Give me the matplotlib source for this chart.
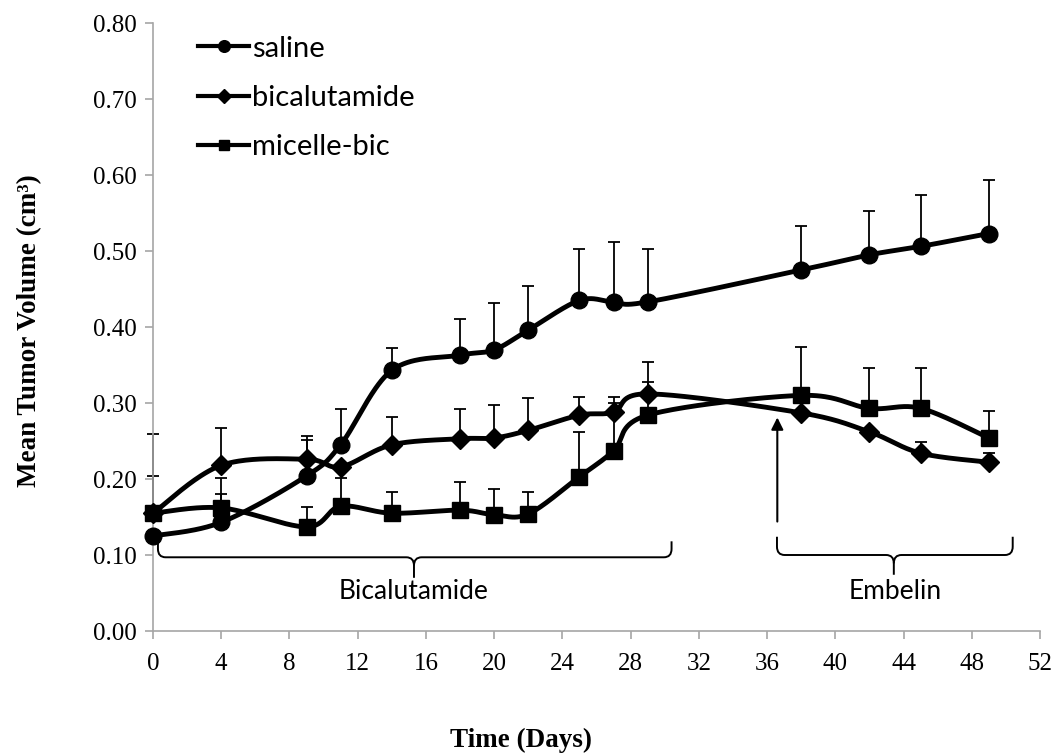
import numpy as np
import matplotlib
matplotlib.use("Agg")
import matplotlib.pyplot as plt
from matplotlib.path import Path
from matplotlib.patches import PathPatch

# tumour volume (cm^3) by day, with upper error bars
days = [0, 4, 9, 11, 14, 18, 20, 22, 25, 27, 29, 38, 42, 45, 49]

saline = [0.125, 0.143, 0.204, 0.245, 0.343, 0.363, 0.370, 0.396, 0.435, 0.433, 0.433,
          0.475, 0.495, 0.506, 0.523]
saline_top = [0.125, 0.180, 0.251, 0.292, 0.373, 0.411, 0.431, 0.454, 0.502, 0.512, 0.502,
              0.533, 0.553, 0.574, 0.593]

bical = [0.155, 0.218, 0.226, 0.216, 0.245, 0.253, 0.254, 0.264, 0.284, 0.288, 0.312,
         0.287, 0.262, 0.234, 0.222]
bical_top = [0.259, 0.267, 0.257, 0.216, 0.282, 0.292, 0.297, 0.307, 0.308, 0.308, 0.354,
             0.287, 0.262, 0.249, 0.234]

micelle = [0.155, 0.162, 0.137, 0.164, 0.155, 0.159, 0.153, 0.154, 0.203, 0.237, 0.284,
           0.310, 0.293, 0.293, 0.254]
micelle_top = [0.204, 0.201, 0.163, 0.201, 0.183, 0.196, 0.187, 0.183, 0.262, 0.300, 0.328,
               0.374, 0.346, 0.346, 0.289]

series = [("saline", saline, saline_top, "o", 12),
          ("bicalutamide", bical, bical_top, "D", 10),
          ("micelle-bic", micelle, micelle_top, "s", 11)]


def smooth(xs, ys, n=40):
    # Bezier smoothing through every point (spreadsheet-style smoothed line)
    p = np.column_stack([xs, ys]).astype(float)
    p = np.vstack([p[:1], p, p[-1:]])
    t = np.linspace(0, 1, n)[:, None]
    pts = []
    for i in range(len(xs) - 1):
        p0, p1, p2, p3 = p[i], p[i + 1], p[i + 2], p[i + 3]
        c1 = p1 + (p2 - p0) / 6
        c2 = p2 - (p3 - p1) / 6
        seg = ((1 - t) ** 3) * p1 + 3 * ((1 - t) ** 2) * t * c1 + 3 * (1 - t) * t ** 2 * c2 + t ** 3 * p2
        pts.append(seg if i == 0 else seg[1:])
    seg = np.vstack(pts)
    return seg[:, 0], seg[:, 1]


def bracket(ax, x0, x1, xm, y_top, y_bar, y_tip, rx=0.45, ry=0.011):
    verts = [(x0, y_top), (x0, y_bar + ry), (x0, y_bar), (x0 + rx, y_bar),
             (xm - rx, y_bar), (xm, y_bar), (xm, y_bar - ry), (xm, y_tip)]
    codes = [Path.MOVETO, Path.LINETO, Path.CURVE3, Path.CURVE3,
             Path.LINETO, Path.CURVE3, Path.CURVE3, Path.LINETO]
    verts2 = [(x1, y_top), (x1, y_bar + ry), (x1, y_bar), (x1 - rx, y_bar),
              (xm + rx, y_bar), (xm, y_bar), (xm, y_bar - ry)]
    codes2 = codes[:-1]
    for v, c in [(verts, codes), (verts2, codes2)]:
        ax.add_patch(PathPatch(Path(v, c), fill=False, lw=1.4, color="black",
                               capstyle="butt", joinstyle="round"))


fig = plt.figure(figsize=(10.55, 7.55), dpi=100)
ax = fig.add_axes([153 / 1055, 124 / 755, 887 / 1055, 608 / 755])

serif = "Liberation Serif"
sans = "Lato"

for label, vals, tops, mk, ms in series:
    err = np.array(tops) - np.array(vals)
    eb = ax.errorbar(days, vals, yerr=[np.zeros(len(vals)), err], fmt="none",
                     ecolor="black", elinewidth=1.3, capsize=4.5, capthick=1.3, zorder=2)
    for art in eb.lines[1] + eb.lines[2]:
        art.set_clip_on(False)
    sx, sy = smooth(days, vals)
    ax.plot(sx, sy, color="black", lw=3.5, solid_capstyle="round", zorder=3, clip_on=False)
    ax.plot(days, vals, linestyle="none", marker=mk, markersize=ms, color="black",
            zorder=4, clip_on=False)
    # legend proxy
    ax.plot([], [], color="black", lw=3, marker=mk, markersize=ms * 0.7, label=label)

ax.set_xlim(0, 52)
ax.set_ylim(0, 0.80)
ax.set_xticks(np.arange(0, 53, 4))
ax.set_yticks(np.arange(0, 0.81, 0.10))
ax.set_yticklabels([f"{v:.2f}" for v in np.arange(0, 0.81, 0.10)])

for s in ["top", "right"]:
    ax.spines[s].set_visible(False)
for s in ["left", "bottom"]:
    ax.spines[s].set_color("#a6a6a6")
    ax.spines[s].set_linewidth(1.2)
ax.tick_params(axis="both", color="#a6a6a6", labelcolor="black", length=6, width=1.2,
               direction="out", labelsize=18, labelfontfamily=serif)
ax.tick_params(axis="x", pad=10)
ax.tick_params(axis="y", pad=6)

fig.text(521 / 1055, 1 - 740 / 755, "Time (Days)", family=serif, weight="bold",
         fontsize=19.5, ha="center", va="center")
fig.text(30 / 1055, 1 - 331 / 755, "Mean Tumor Volume (cm³)", family=serif, weight="bold",
         fontsize=19.5, ha="center", va="center", rotation=90)

leg = ax.legend(loc="upper left", bbox_to_anchor=(0.028, 1.013), frameon=False,
                prop={"family": sans, "size": 21}, handlelength=1.75, handletextpad=0.1,
                labelspacing=0.8, borderaxespad=0.3)

# treatment periods
bracket(ax, 0.29, 30.4, 15.3, 0.118, 0.097, 0.070)
bracket(ax, 36.58, 50.4, 43.43, 0.124, 0.100, 0.074)
ax.text(15.3, 0.052, "Bicalutamide", family=sans, fontsize=19, ha="center", va="center")
ax.text(43.5, 0.052, "Embelin", family=sans, fontsize=19, ha="center", va="center")

ax.annotate("", xy=(36.6, 0.281), xytext=(36.6, 0.144),
            arrowprops=dict(arrowstyle="-|>", lw=1.5, color="black", mutation_scale=18,
                            shrinkA=0, shrinkB=0))

fig.savefig("out.png", dpi=100)
